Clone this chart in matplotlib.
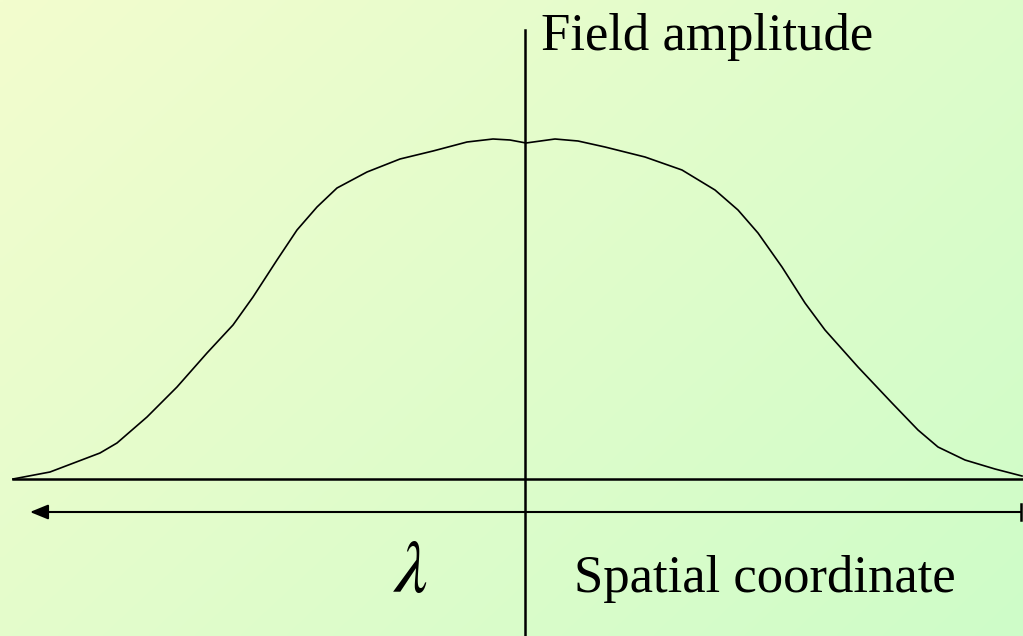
import numpy as np
import matplotlib
matplotlib.use("Agg")
import matplotlib.pyplot as plt

# Curve (horizontal position, height in pixel units; y grows downward)
curve_x = [13, 50, 100, 117, 147, 177, 207, 233, 253, 277, 297, 317, 337, 367, 400, 433,
           467, 493, 510, 526, 555, 578, 605, 645, 682, 715, 738, 758, 782, 805, 825,
           858, 892, 918, 938, 965, 995, 1022]
curve_y = [479, 472, 453, 443, 417, 387, 353, 325, 297, 260, 230, 207, 188, 172, 159, 151,
           142, 139, 140, 143, 139, 141, 147, 157, 170, 190, 210, 233, 267, 303, 330,
           367, 403, 430, 447, 460, 469, 476]

label_vertical = "Field amplitude"
label_horizontal = "Spatial coordinate"
label_lambda = r"$\lambda$"

W, H = 1023, 636
plt.rcParams["mathtext.fontset"] = "stix"
fig = plt.figure(figsize=(W / 100, H / 100), dpi=100)
ax = fig.add_axes([0, 0, 1, 1])
ax.set_xlim(0, W)
ax.set_ylim(H, 0)
ax.axis("off")

# diagonal background gradient (pale yellow top-left -> pale green bottom-right)
gx, gy = np.meshgrid(np.linspace(0, 1, 200), np.linspace(0, 1, 200))
t = (gx * 0.6 + gy * 0.4)
c0 = np.array([243, 253, 206]) / 255
c1 = np.array([206, 252, 200]) / 255
img = c0[None, None, :] * (1 - t[..., None]) + c1[None, None, :] * t[..., None]
ax.imshow(img, extent=[0, W, H, 0], aspect="auto", zorder=0, interpolation="bilinear")

# curve
ax.plot(curve_x, curve_y, color="black", lw=1.2, zorder=3,
        solid_joinstyle="round", antialiased=True)

# axes lines
ax.plot([13, W], [479, 479], color="black", lw=1.8, zorder=3)
ax.plot([525, 525], [30, H], color="black", lw=1.8, zorder=3)

# arrow with left head and right bar
ax.annotate("", xy=(30, 512), xytext=(1021, 512),
            arrowprops=dict(arrowstyle="-|>,head_length=1.1,head_width=0.45",
                            color="black", lw=1.5, shrinkA=0, shrinkB=0), zorder=3)
ax.plot([1021, 1021], [504, 520], color="black", lw=1.8, zorder=3)

serif = ["Liberation Serif", "DejaVu Serif"]
ax.text(541, 50, label_vertical, fontsize=38, family=serif, color="black",
        ha="left", va="baseline", zorder=4)
ax.text(574, 592, label_horizontal, fontsize=38, family=serif, color="black",
        ha="left", va="baseline", zorder=4)
ax.text(411, 592, label_lambda, fontsize=54, color="black",
        ha="center", va="baseline", zorder=4)

fig.savefig("out.png", dpi=100)
